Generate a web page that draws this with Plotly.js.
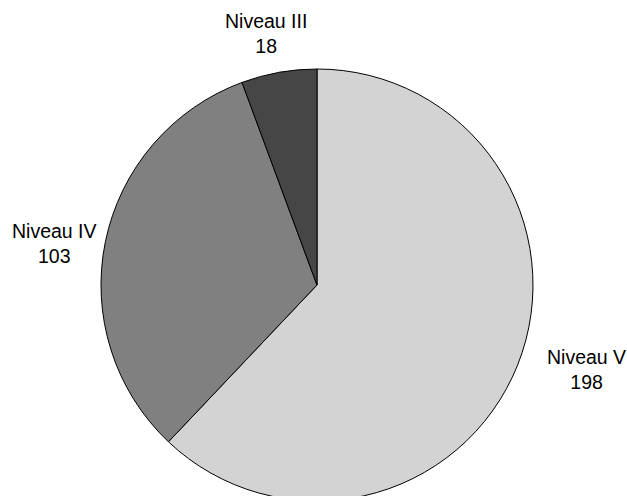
<!DOCTYPE html>
<html>
<head>
<meta charset="utf-8">
<script src="https://cdn.plot.ly/plotly-3.0.1.min.js"></script>
<style>
  html, body { margin: 0; padding: 0; overflow: hidden; background: #fff; }
  #chart { width: 627px; height: 520px; }
</style>
</head>
<body>
<div id="chart"></div>
<script>
// ---- data ----
const categories = ["Niveau V", "Niveau IV", "Niveau III"];
const values = [198, 103, 18];

// ---- styles / label placement (layout only) ----
const sliceColors = ["#d3d3d3", "#808080", "#464646"];
const labelRadius = [1.309, 1.231, 1.186];     // in pie radii
const labelAngleShift = [-4.4, -2.5, -1.3];     // degrees, relative to slice mid-angle
const FONT = "Liberation Sans, Arial, sans-serif";

const trace = {
  type: "pie",
  labels: categories,
  values: values,
  sort: false,
  direction: "clockwise",
  rotation: 0,
  marker: { colors: sliceColors, line: { color: "#000000", width: 1 } },
  textinfo: "none",
  hoverinfo: "label+value+percent",
  showlegend: false
};

// label positions derived from slice mid-angles (clockwise from 12 o'clock)
const total = values.reduce((a, b) => a + b, 0);
let cum = 0;
const annotations = categories.map((cat, i) => {
  const mid = (cum + values[i] / 2) / total * 360 + labelAngleShift[i];
  cum += values[i];
  const rad = mid * Math.PI / 180;
  return {
    xref: "paper", yref: "paper",
    x: 0.5 + 0.5 * labelRadius[i] * Math.sin(rad),
    y: 0.5 + 0.5 * labelRadius[i] * Math.cos(rad),
    xanchor: "center", yanchor: "middle", align: "center",
    text: cat + "<br>" + values[i],
    showarrow: false,
    font: { family: FONT, size: 19.5, color: "#000000" }
  };
});

const layout = {
  width: 627,
  height: 520,
  margin: { l: 101, r: 94, t: 69, b: 19, pad: 0 },
  paper_bgcolor: "#ffffff",
  plot_bgcolor: "#ffffff",
  showlegend: false,
  font: { family: FONT, color: "#000000" },
  annotations: annotations
};

Plotly.newPlot("chart", [trace], layout, { displayModeBar: false, staticPlot: true });
</script>
</body>
</html>
